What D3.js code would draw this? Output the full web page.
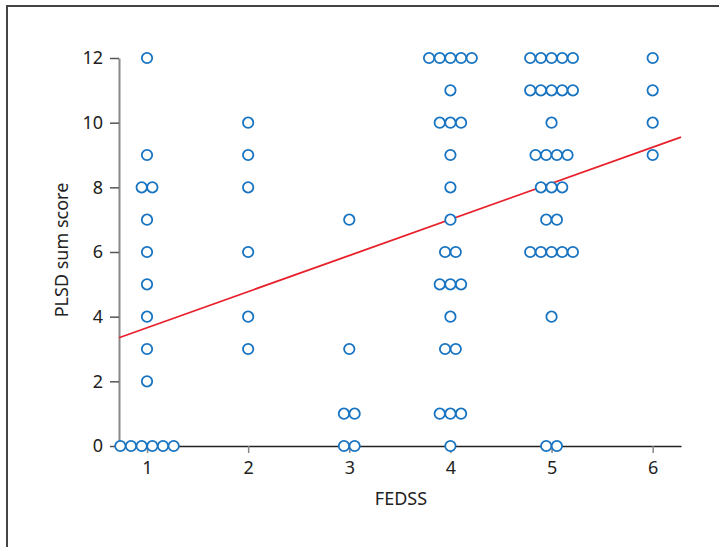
<!DOCTYPE html>
<html lang="en">
  <head>
    <meta charset="UTF-8" />
    <title>PLSD sum score vs FEDSS</title>
    <style>
      body {
        margin: 0;
        background: #ffffff;
        font-family: "Noto Sans", sans-serif;
      }
    </style>
    <script src="https://d3js.org/d3.v7.min.js"></script>
  </head>
  <body>
    <svg id="chart"></svg>
    <script>
      // PLSD sum scores per FEDSS level (one entry per patient)
      const fedss1 = [12, 9, 8, 8, 7, 6, 5, 4, 3, 2, 0, 0, 0, 0, 0, 0];
      const fedss2 = [10, 9, 8, 6, 4, 3];
      const fedss3 = [7, 3, 1, 1, 0, 0];
      const fedss4 = [12, 12, 12, 12, 12, 11, 10, 10, 10, 9, 8, 7, 6, 6, 5, 5, 5, 4, 3, 3, 1, 1, 1, 0];
      const fedss5 = [12, 12, 12, 12, 12, 11, 11, 11, 11, 11, 10, 9, 9, 9, 9, 8, 8, 8, 7, 7, 6, 6, 6, 6, 6, 4, 0, 0];
      const fedss6 = [12, 11, 10, 9];

      const xTicks = [1, 2, 3, 4, 5, 6];
      const yTicks = [0, 2, 4, 6, 8, 10, 12];

      // fitted regression line
      const fitIntercept = 2.54;
      const fitSlope = 1.117;

      const width = 719;
      const height = 547;
      const margin = { top: 58, right: 38, bottom: 101, left: 119 };

      const svg = d3.select("#chart").attr("width", width).attr("height", height);

      // frame (top and left edges only)
      svg.append("path")
        .attr("d", `M7,${height} V6 H${width}`)
        .attr("fill", "none")
        .attr("stroke", "#444")
        .attr("stroke-width", 2);

      const x = d3.scaleLinear()
        .domain([0.723, 6.28])
        .range([margin.left, width - margin.right]);

      const y = d3.scaleLinear()
        .domain([0, 12])
        .range([height - margin.bottom, margin.top]);

      // x axis
      const xAxis = svg.append("g")
        .attr("transform", `translate(0,${y(0)})`)
        .call(d3.axisBottom(x).tickValues(xTicks).tickFormat(d3.format("d"))
          .tickSize(7).tickPadding(8).tickSizeOuter(0));
      xAxis.select(".domain").attr("stroke", "#222").attr("stroke-width", 1.5);
      xAxis.selectAll(".tick line").attr("stroke", "#888").attr("stroke-width", 1.5);

      // y axis
      const yAxis = svg.append("g")
        .attr("transform", `translate(${x.range()[0]},0)`)
        .call(d3.axisLeft(y).tickValues(yTicks).tickFormat(d3.format("d"))
          .tickSize(9).tickPadding(7).tickSizeOuter(0));
      yAxis.select(".domain").attr("stroke", "#888").attr("stroke-width", 2);
      yAxis.selectAll(".tick line").attr("stroke", "#555").attr("stroke-width", 1.5);

      svg.selectAll(".tick text")
        .attr("font-family", "'Noto Sans', sans-serif")
        .attr("font-size", 18)
        .attr("fill", "#222");

      // axis titles
      svg.append("text")
        .attr("x", 401)
        .attr("y", 505)
        .attr("text-anchor", "middle")
        .attr("font-size", 18)
        .attr("fill", "#222")
        .text("FEDSS");

      svg.append("text")
        .attr("transform", `translate(68,${y(6) - 2}) rotate(-90)`)
        .attr("text-anchor", "middle")
        .attr("font-size", 18)
        .attr("fill", "#222")
        .text("PLSD sum score");

      // regression line
      const [x0, x1] = x.domain();
      svg.append("line")
        .attr("x1", x(x0))
        .attr("y1", y(fitIntercept + fitSlope * x0))
        .attr("x2", x(x1))
        .attr("y2", y(fitIntercept + fitSlope * x1))
        .attr("stroke", "#e8202a")
        .attr("stroke-width", 1.8);

      // points: equal values at one FEDSS level are spread side by side
      const groups = [fedss1, fedss2, fedss3, fedss4, fedss5, fedss6];
      const step = 10.67;
      const points = [];
      groups.forEach((vals, gi) => {
        const level = xTicks[gi];
        d3.groups(vals, (v) => v).forEach(([v, arr]) => {
          arr.forEach((_, i) => {
            points.push({ level, value: v, offset: (i - (arr.length - 1) / 2) * step });
          });
        });
      });

      svg.append("g")
        .selectAll("circle")
        .data(points)
        .join("circle")
        .attr("cx", (d) => x(d.level) + d.offset)
        .attr("cy", (d) => y(d.value))
        .attr("r", 5.2)
        .attr("fill", "#fff")
        .attr("stroke", "#1874c1")
        .attr("stroke-width", 1.8);
    </script>
  </body>
</html>
